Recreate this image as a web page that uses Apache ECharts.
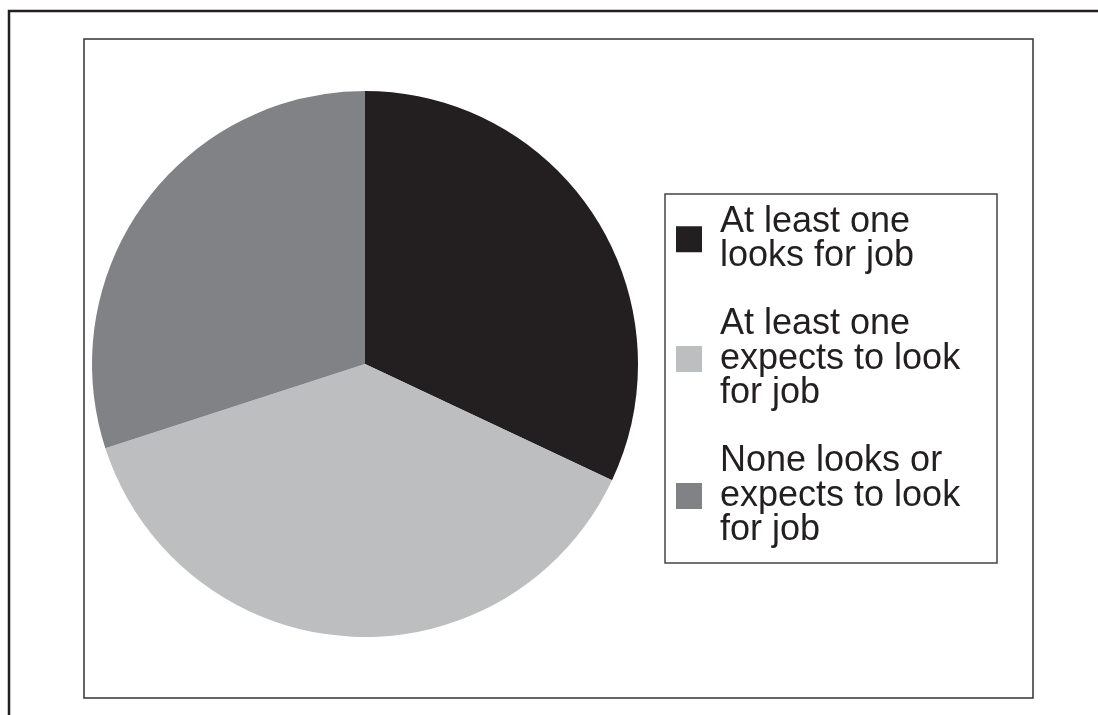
<!DOCTYPE html>
<html>
<head>
<meta charset="utf-8">
<script src="https://cdn.jsdelivr.net/npm/echarts@6/dist/echarts.min.js"></script>
<style>
  html, body { margin: 0; padding: 0; background: #fff; }
  #chart { width: 1098px; height: 715px; }
</style>
</head>
<body>
<div id="chart"></div>
<script>
// slice labels (legend) and shares
const categories = [
  "At least one\nlooks for job",
  "At least one\nexpects to look\nfor job",
  "None looks or\nexpects to look\nfor job"
];
const shares = [32, 38, 30];
const colors = ["#231f20", "#bcbec0", "#808285"];

const chart = echarts.init(document.getElementById("chart"), null, { renderer: "canvas" });

chart.setOption({
  animation: false,
  color: colors,
  graphic: [
    // outer frame: top and left edges only
    { type: "polyline", shape: { points: [[9, 715], [9, 11], [1098, 11]] },
      style: { stroke: "#231f20", lineWidth: 2.5, fill: null } },
    // plot area box
    { type: "rect", shape: { x: 84, y: 39, width: 949, height: 659 },
      style: { stroke: "#333", lineWidth: 1.5, fill: null } },
    // legend box
    { type: "rect", shape: { x: 665, y: 194, width: 332, height: 369 },
      style: { stroke: "#444", lineWidth: 1.5, fill: null } }
  ],
  legend: {
    orient: "vertical",
    left: 676,
    top: 204,
    padding: 0,
    itemGap: 32,
    itemWidth: 26,
    itemHeight: 26,
    icon: "rect",
    selectedMode: false,
    data: categories,
    textStyle: {
      fontFamily: "Liberation Sans, Arial, sans-serif",
      fontSize: 36,
      lineHeight: 34.5,
      color: "#231f20",
      padding: [0, 0, 0, 13]
    }
  },
  series: [{
    type: "pie",
    center: [365, 364],
    radius: 273,
    startAngle: 90,
    clockwise: true,
    label: { show: false },
    labelLine: { show: false },
    emphasis: { disabled: true },
    itemStyle: { borderWidth: 0 },
    data: categories.map((name, i) => ({ name, value: shares[i] }))
  }]
});
</script>
</body>
</html>
